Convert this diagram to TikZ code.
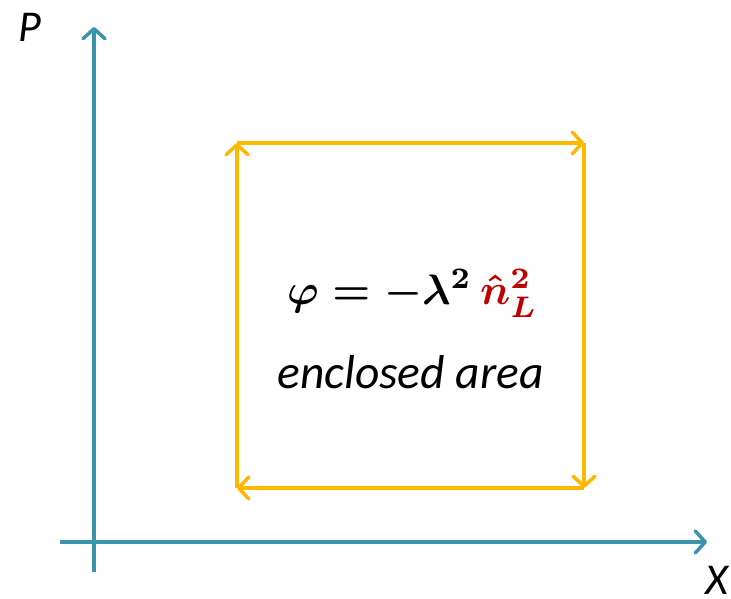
\documentclass[tikz,border=0pt]{standalone}
\usepackage{fontspec}
\setmainfont{Carlito}
\usepackage{amsmath,bm,graphicx}
\usetikzlibrary{arrows.meta}
\definecolor{axisc}{HTML}{3A94AB}
\definecolor{loopc}{HTML}{FFB800}
\definecolor{redc}{HTML}{C00000}
\tikzset{
  axis/.style={draw=axisc, line width=3.5pt, -{Straight Barb[length=10pt,width=22pt,round]}},
  loopline/.style={draw=loopc, line width=3.5pt, -{Straight Barb[length=10pt,width=22pt,round]}},
  lbl/.style={font=\fontsize{44}{50}\selectfont\itshape, inner sep=0pt},
}
\begin{document}
\begin{tikzpicture}[x=1pt,y=-1pt]
\useasboundingbox (0,0) rectangle (731,599);
\coordinate (xs) at (60,542);
\coordinate (xe) at (707,542);
\coordinate (ys) at (94,572);
\coordinate (ye) at (94,27);
\draw[axis] (xs) -- (xe);
\draw[axis] (ys) -- (ye);
\coordinate (bl) at (237,488);
\coordinate (tl) at (237,143);
\coordinate (tr) at (584,143);
\coordinate (br) at (584,488);
\draw[loopline] (bl) -- (tl);
\draw[loopline] (tl) -- (tr);
\draw[loopline] (tr) -- (br);
\draw[loopline] (br) -- (bl);
\node[lbl, anchor=base] (P) at (30,42) {P};
\node[lbl, anchor=base] (X) at (717,594) {X};
\node[inner sep=0pt, anchor=base] (eq) at (412.5,304) {\resizebox{251pt}{!}{\boldmath$\varphi = -\lambda^{2}\,{\color{redc}\hat{n}_{L}^{2}}$}};
\node[inner sep=0pt, anchor=base, font=\fontsize{47.5}{54}\selectfont\itshape] (area) at (410.5,388) {enclosed area};
\end{tikzpicture}
\end{document}
